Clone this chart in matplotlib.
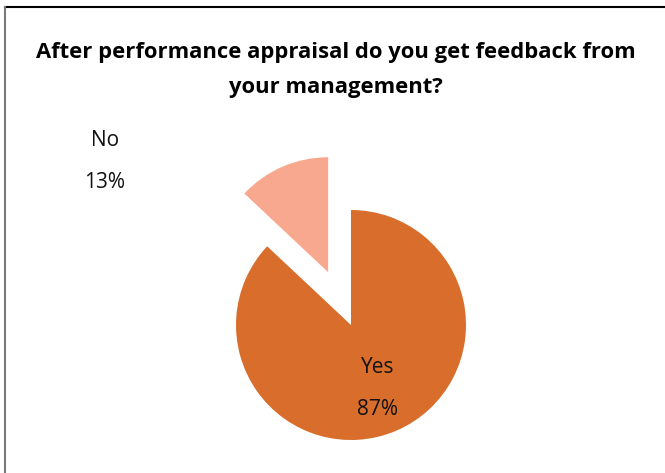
import matplotlib
matplotlib.use("Agg")
import matplotlib.pyplot as plt
from matplotlib.lines import Line2D

title = "After performance appraisal do you get feedback from\nyour management?"
labels = ["No", "Yes"]
shares = [13, 87]
colors = ["#F7A88E", "#D96E2C"]
explode = [0.5, 0.0]

W, H = 665, 473
fig = plt.figure(figsize=(W / 100, H / 100), dpi=100)
plt.rcParams["font.family"] = ["Open Sans", "DejaVu Sans"]

# pie axes: centre at (351, 325) px, radius 115 px, limits -2..2
cx, cy, r = 351, 325, 115
ax = fig.add_axes([(cx - 2 * r) / W, (H - cy - 2 * r) / H, 4 * r / W, 4 * r / H])
wedges, _ = ax.pie(shares, colors=colors, explode=explode, startangle=90,
                   counterclock=True, radius=1.0,
                   wedgeprops=dict(linewidth=0))
ax.set_xlim(-2, 2)
ax.set_ylim(-2, 2)
ax.axis("off")

# data labels
label_pos = [(-2.14, 1.42), (0.23, -0.55)]
for lab, val, (x, y) in zip(labels, shares, label_pos):
    ax.text(x, y, f"{lab}\n{val}%", ha="center", va="center",
            fontsize=15, linespacing=2.3, color="#111111")

fig.text(336 / W, 1 - 70 / H, title, ha="center", va="center",
         fontsize=15.8, fontweight="bold", linespacing=1.88)

# frame: top and left edges only
fig.add_artist(Line2D([5 / W, 1], [1 - 7 / H, 1 - 7 / H], color="black", lw=1.5,
                      transform=fig.transFigure))
fig.add_artist(Line2D([5 / W, 5 / W], [0, 1 - 7 / H], color="#7a7a7a", lw=1.5,
                      transform=fig.transFigure))

fig.savefig("out.png", dpi=100)
